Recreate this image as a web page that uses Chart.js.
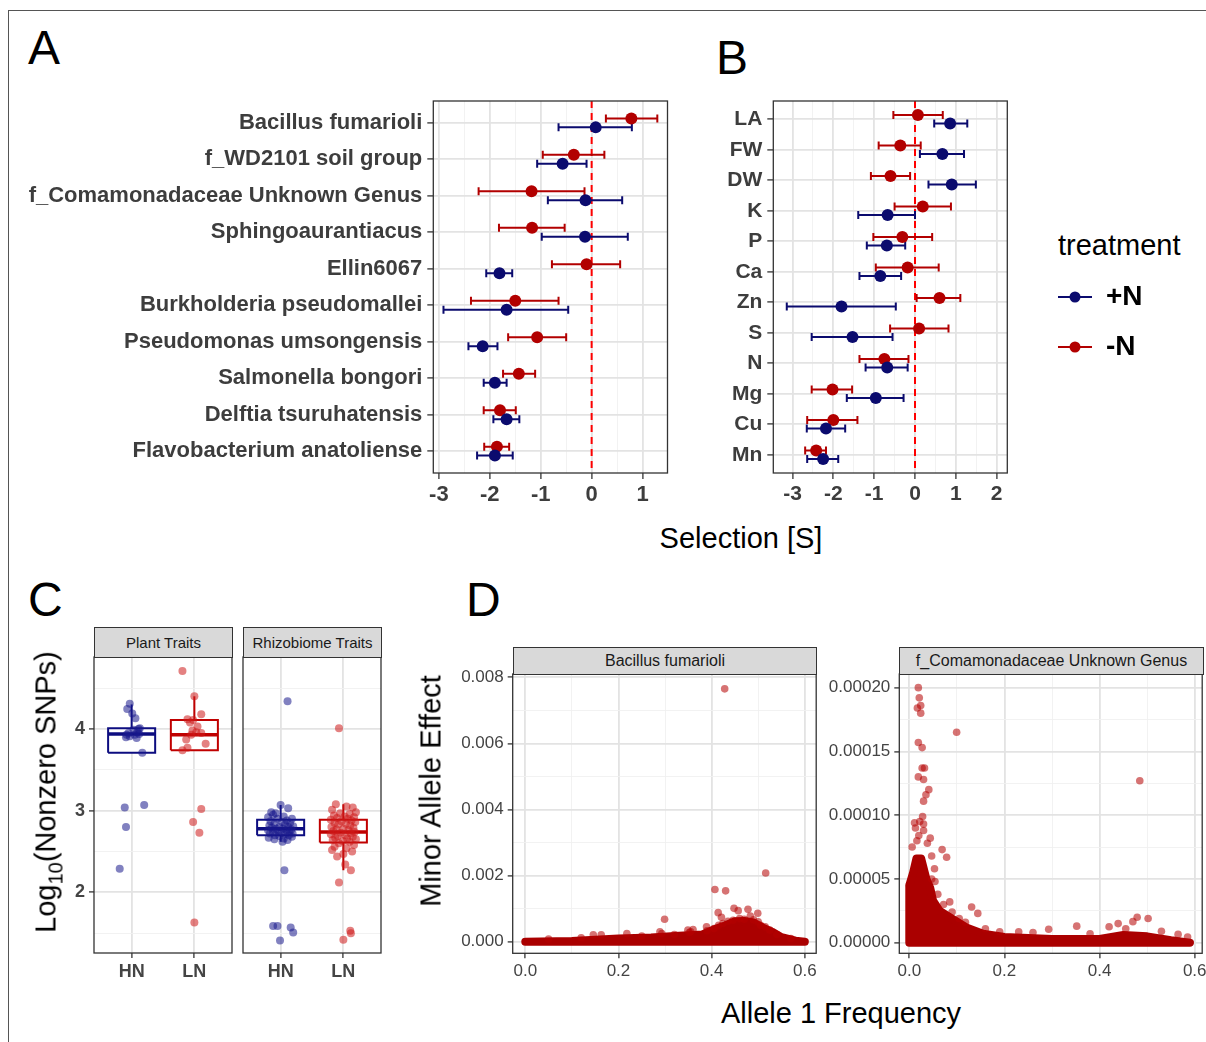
<!DOCTYPE html>
<html><head><meta charset="utf-8">
<script src="https://cdn.jsdelivr.net/npm/chart.js@4.4.1/dist/chart.umd.min.js"></script>
<style>
html,body{margin:0;padding:0;background:#fff}
body{width:1206px;height:1042px;position:relative;overflow:hidden;font-family:'Liberation Sans',Arial,Helvetica,sans-serif}
canvas{position:absolute}
.plab{position:absolute;font-size:48px;line-height:48px;color:#000}
.strip{position:absolute;background:#D9D9D9;border:1px solid #333;box-sizing:border-box;color:#1a1a1a;text-align:center;white-space:nowrap}
.ttl{position:absolute;font-size:29px;line-height:29px;color:#000;white-space:nowrap;transform:translate(-50%,-50%)}
.ttl.rot{transform:translate(-50%,-50%) rotate(-90deg)}
.ttl.lft{transform:translate(0,-50%)}
.ttl sub{font-size:20px;line-height:0}
#frame{position:absolute;left:8px;top:10px;width:1300px;height:1100px;border-top:1px solid #555;border-left:1px solid #555}
</style></head><body>
<div id="frame"></div>
<div class="plab" style="left:28px;top:24px">A</div>
<div class="plab" style="left:716px;top:34px">B</div>
<div class="plab" style="left:28px;top:576px">C</div>
<div class="plab" style="left:466px;top:576px">D</div>
<canvas id="cA" width="680" height="420" style="left:0;top:95px"></canvas>
<canvas id="cB" width="320" height="420" style="left:700px;top:95px"></canvas>
<div class="ttl lft" style="left:1058px;top:245px">treatment</div>
<canvas id="cLeg" width="170" height="130" style="left:1036px;top:261px"></canvas>
<div class="ttl" style="left:741px;top:538px">Selection [S]</div>
<canvas id="cC1" width="177" height="340" style="left:60px;top:650px"></canvas>
<canvas id="cC2" width="147" height="340" style="left:238px;top:650px"></canvas>
<div class="strip" style="left:94px;top:627px;width:139px;height:31px;font-size:15px;line-height:29px">Plant Traits</div>
<div class="strip" style="left:243px;top:627px;width:139px;height:31px;font-size:15px;line-height:29px">Rhizobiome Traits</div>
<div class="ttl rot" style="left:46px;top:792px">Log<sub>10</sub>(Nonzero SNPs)</div>
<canvas id="cD1" width="380" height="350" style="left:440px;top:640px"></canvas>
<canvas id="cD2" width="386" height="350" style="left:820px;top:640px"></canvas>
<div class="strip" style="left:513px;top:647px;width:304px;height:28px;font-size:16px;line-height:26px">Bacillus fumarioli</div>
<div class="strip" style="left:899px;top:647px;width:305px;height:28px;font-size:16px;line-height:26px">f_Comamonadaceae Unknown Genus</div>
<div class="ttl rot" style="left:431px;top:791px">Minor Allele Effect</div>
<div class="ttl" style="left:841px;top:1013px">Allele 1 Frequency</div>
<script>
// ---------------- DATA ----------------
const catsA = ['Bacillus fumarioli','f_WD2101 soil group','f_Comamonadaceae Unknown Genus','Sphingoaurantiacus','Ellin6067','Burkholderia pseudomallei','Pseudomonas umsongensis','Salmonella bongori','Delftia tsuruhatensis','Flavobacterium anatoliense'];
const aPlusMean  = [0.08,-0.57,-0.12,-0.13,-1.81,-1.67,-2.14,-1.90,-1.67,-1.90];
const aPlusLo    = [-0.65,-1.07,-0.86,-0.98,-2.07,-2.91,-2.42,-2.12,-1.93,-2.25];
const aPlusHi    = [0.79,-0.10,0.60,0.71,-1.56,-0.46,-1.85,-1.67,-1.42,-1.55];
const aMinusMean = [0.78,-0.35,-1.18,-1.17,-0.10,-1.50,-1.07,-1.43,-1.80,-1.86];
const aMinusLo   = [0.28,-0.96,-2.22,-1.82,-0.78,-2.37,-1.64,-1.74,-2.12,-2.11];
const aMinusHi   = [1.29,0.25,-0.14,-0.53,0.56,-0.65,-0.50,-1.11,-1.49,-1.62];
const aXTicks = [-3,-2,-1,0,1];

const catsB = ['LA','FW','DW','K','P','Ca','Zn','S','N','Mg','Cu','Mn'];
const bPlusMean  = [0.86,0.67,0.90,-0.67,-0.69,-0.85,-1.80,-1.53,-0.68,-0.96,-2.18,-2.25];
const bPlusLo    = [0.47,0.12,0.33,-1.39,-1.18,-1.36,-3.14,-2.53,-1.21,-1.67,-2.65,-2.64];
const bPlusHi    = [1.28,1.20,1.49,0.00,-0.24,-0.34,-0.47,-0.55,-0.18,-0.28,-1.71,-1.88];
const bMinusMean = [0.07,-0.36,-0.60,0.19,-0.31,-0.18,0.60,0.10,-0.75,-2.02,-2.00,-2.42];
const bMinusLo   = [-0.53,-0.89,-1.08,-0.50,-1.02,-0.96,0.04,-0.61,-1.36,-2.53,-2.64,-2.69];
const bMinusHi   = [0.68,0.14,-0.12,0.88,0.42,0.58,1.11,0.82,-0.16,-1.54,-1.41,-2.18];
const bXTicks = [-3,-2,-1,0,1,2];
const refX = [0];
const treatments = ['+N','-N'];

const cGroups = ['HN','LN'];
const cYTicks = [2,3,4];
const cPlantHNJit = [-0.03,-0.07,0.01,0.06,0.13,0.09,-0.08,0.05,0.12,-0.03,0.17,0.20,-0.11,-0.09,-0.19,-0.09,0.08,0.03,-0.05,0.11];
const cPlantHNVal = [4.31,4.245,4.19,4.13,4.01,3.96,3.93,3.93,3.94,3.91,3.71,3.07,3.04,2.80,2.29,3.90,3.89,3.99,3.95,4.00];
const cPlantLNJit = [-0.19,0.00,0.11,-0.11,-0.02,0.05,-0.03,0.11,-0.13,0.18,-0.11,-0.19,0.11,-0.02,0.08,0.00,-0.05,0.03,-0.07];
const cPlantLNVal = [4.71,4.40,4.18,4.12,4.11,4.03,3.98,3.95,3.87,3.82,3.77,3.74,3.02,2.86,2.73,1.63,3.93,3.96,4.08];
const cRhizoHNJit = [-0.15,-0.08,0.00,0.12,-0.12,0.05,-0.20,0.18,-0.05,0.10,-0.16,0.02,0.15,-0.10,0.07,-0.18,0.20,-0.02,0.12,-0.14,0.04,-0.07,0.17,-0.20,0.09,-0.04,0.14,-0.12,0.01,0.19,-0.17,0.07,-0.09,0.13,-0.02,0.18,-0.19,0.05,-0.10,0.11,0.03,
  0.11,0.06,-0.12,-0.05,0.16,0.20,-0.01];
const cRhizoHNVal = [2.98,2.97,3.07,3.03,2.95,2.93,2.92,2.90,2.90,2.88,2.87,2.86,2.85,2.84,2.83,2.82,2.81,2.80,2.80,2.79,2.78,2.78,2.77,2.76,2.76,2.75,2.74,2.74,2.73,2.72,2.72,2.71,2.70,2.70,2.69,2.68,2.67,2.66,2.65,2.64,2.62,
  4.34,2.27,1.59,1.59,1.57,1.51,1.41];
const cRhizoLNJit = [-0.12,0.05,0.15,-0.18,0.20,-0.05,0.10,-0.15,0.02,0.17,-0.10,0.07,-0.20,0.13,-0.03,0.19,-0.14,0.04,-0.08,0.11,-0.19,0.16,0.00,-0.11,0.08,-0.16,0.18,-0.04,0.12,-0.20,0.03,-0.09,0.15,-0.13,0.06,0.20,-0.17,-0.01,0.10,-0.07,0.17,-0.14,0.05,-0.18,0.14,0.00,-0.10,
  -0.07,-0.07,0.11,0.12,0.00,0.12,0.03];
const cRhizoLNVal = [3.08,3.05,3.04,3.01,2.98,2.97,2.96,2.94,2.93,2.92,2.91,2.90,2.89,2.88,2.87,2.86,2.85,2.84,2.83,2.82,2.80,2.79,2.78,2.77,2.76,2.75,2.74,2.73,2.72,2.71,2.70,2.69,2.68,2.67,2.66,2.65,2.64,2.63,2.62,2.60,2.58,2.56,2.54,2.52,2.50,2.47,2.44,
  4.01,2.12,1.53,1.50,1.42,2.27,2.34];
const cPlantQ1 = [3.71,3.74], cPlantMed = [3.94,3.93], cPlantQ3 = [4.01,4.11], cPlantLo = [3.71,3.74], cPlantHi = [4.30,4.40];
const cRhizoQ1 = [2.70,2.61], cRhizoMed = [2.78,2.74], cRhizoQ3 = [2.89,2.89], cRhizoLo = [2.62,2.27], cRhizoHi = [3.07,3.08];

const dXTicks = [0,0.2,0.4,0.6];
const dBacYTicks = [0,0.002,0.004,0.006,0.008];
const dComYTicks = [0,0.00005,0.0001,0.00015,0.0002];
const dBacX = [0.428,0.516,0.407,0.430,0.299,0.414,0.421,0.448,0.457,0.478,0.499,0.483,0.389,0.349,0.360,0.289,0.146,0.163,0.218,0.424,0.446,0.500,
  0.293,0.352,0.355,0.390,0.415,0.435,0.460,0.470,0.490,0.505,0.515,0.525,0.540,0.570,0.250,0.120,0.050,0.320,0.405];
const dBacY = [0.00765,0.00208,0.00158,0.00154,0.00068,0.00088,0.00074,0.00101,0.00094,0.00098,0.00086,0.00078,0.00045,0.00035,0.00037,0.00030,0.00021,0.00021,0.00025,0.00055,0.00065,0.00060,
  0.00025,0.00028,0.00030,0.00033,0.00050,0.00062,0.00070,0.00068,0.00066,0.00050,0.00045,0.00035,0.00022,0.00010,0.00017,0.00012,0.00008,0.00022,0.00040];
const dBacEnvX  = [0.00,0.10,0.20,0.27,0.33,0.38,0.41,0.43,0.45,0.47,0.49,0.51,0.53,0.55,0.58,0.60];
const dBacEnvHi = [0.0,0.00002,0.0001,0.00013,0.00018,0.00022,0.00040,0.00050,0.00062,0.00063,0.00058,0.00043,0.0003,0.00014,0.00003,0.0];
const dBacEnvLo = [0,0,0,0,0,0,0,0,0,0,0,0,0,0,0,0];
const dComX = [0.019,0.021,0.024,0.017,0.024,0.0995,0.019,0.027,0.027,0.019,0.030,0.041,0.035,0.030,0.028,0.011,0.030,0.020,0.044,0.038,0.006,0.069,0.0785,0.047,0.053,0.054,0.085,0.131,0.144,0.190,0.293,0.352,0.420,0.439,0.470,0.479,0.502,0.4845,0.013,0.022,0.030,0.016,0.032,
  0.047,0.060,0.072,0.090,0.105,0.118,0.160,0.230,0.260,0.380,0.455,0.530,0.565,0.585];
const dComY = [0.0002,0.000192,0.000186,0.000184,0.00018,0.000165,0.000157,0.000153,0.000137,0.00013,0.000128,0.00012,0.000116,0.000111,0.000099,0.000094,0.000093,0.000084,0.000082,0.000078,0.000075,0.000073,0.000067,0.000068,0.000058,0.000048,0.000032,0.000028,0.000023,0.0000086,0.0000105,0.000013,0.0000125,0.000015,0.0000165,0.00002,0.000019,0.000127,0.00009,0.000095,0.000088,0.00008,0.000137,
  0.00005,0.000038,0.00003,0.000024,0.000019,0.000016,0.000011,0.0000085,0.000008,0.000007,0.000011,0.000009,0.0000065,0.0000045];
const dComEnvX  = [0.000,0.008,0.015,0.025,0.036,0.044,0.050,0.064,0.085,0.120,0.155,0.200,0.300,0.400,0.450,0.500,0.550,0.590];
const dComEnvHi = [0.000045,0.000055,0.000066,0.000066,0.00005,0.000043,0.000033,0.000025,0.00002,0.000012,0.000007,0.0000045,0.000003,0.000003,0.000006,0.000005,0.000002,0.0];
const dComEnvLo = [0,0,0,0,0,0,0,0,0,0,0,0,0,0,0,0,0,0];

// ---------------- STYLE / HELPERS ----------------
Chart.defaults.font.family = "'Liberation Sans', Arial, Helvetica, sans-serif";
Chart.defaults.animation = false;
Chart.defaults.responsive = false;
Chart.defaults.devicePixelRatio = 1;
Chart.defaults.plugins.legend.display = false;
Chart.defaults.plugins.tooltip.enabled = false;

const RED = '#B20000', BLUE = '#0B0B6E';
const mids = a => { const m=[]; for (let i=0;i<a.length-1;i++) m.push((a[i]+a[i+1])/2); return m; };

function mkAxis(o){
  const minor = o.minor || [];
  const all = o.major.concat(minor).sort((a,b)=>a-b);
  const isMaj = v => o.major.some(m => Math.abs(m-v) < 1e-12);
  return {
    type:'linear', min:o.min, max:o.max, reverse:!!o.reverse,
    afterBuildTicks: s => { s.ticks = all.map(v=>({value:v})); },
    afterFit: s => {
      if (o.width != null) s.width = o.width;
      if (o.height != null) s.height = o.height;
      s.paddingLeft = 0; s.paddingRight = 0; s.paddingTop = 0; s.paddingBottom = 0;
    },
    border:{display:false},
    grid:{
      color: c => (c.tick && isMaj(c.tick.value)) ? '#E3E3E3' : '#F0F0F0',
      lineWidth: c => (c.tick && isMaj(c.tick.value)) ? 1.8 : 0.9,
      drawTicks: o.ticksOn !== false, tickLength: o.tickLen || 6, tickWidth: 1.3,
      tickColor: c => (c.tick && isMaj(c.tick.value)) ? '#333' : 'rgba(0,0,0,0)'
    },
    ticks:{
      display: o.labelsOn !== false, autoSkip:false, maxRotation:0, minRotation:0,
      padding: o.pad != null ? o.pad : 4, color: o.color || '#444',
      font:{size:o.size || 20, weight:o.bold ? 'bold' : 'normal'},
      callback: v => isMaj(v) ? o.fmt(v) : ''
    }
  };
}

const panelBorder = { id:'panelBorder', afterDraw(chart){
  const {ctx, chartArea:a} = chart; ctx.save(); ctx.strokeStyle='#333'; ctx.lineWidth=1.3;
  ctx.strokeRect(a.left, a.top, a.right-a.left, a.bottom-a.top); ctx.restore(); } };

function ptsDs(vals, off, color, r, order){
  return {type:'scatter', data: vals.map((v,i)=>({x:v, y:i+off})), pointRadius:r, pointHoverRadius:r,
    pointBackgroundColor:color, pointBorderColor:color, pointBorderWidth:0, order};
}
function errDs(lo, hi, off, color, order){
  const d = [];
  lo.forEach((l,i)=>{ d.push({x:l,y:i+off},{x:hi[i],y:i+off},{x:hi[i],y:null}); });
  return {type:'line', data:d, borderColor:color, borderWidth:2, spanGaps:false, fill:false,
    pointStyle:'line', pointRotation:90, pointRadius:4, pointHoverRadius:4, pointBorderColor:color, pointBorderWidth:2, order};
}

function forest(id, cats, pm, pl, ph, mm, ml, mh, cfg){
  const n = cats.length, ymin=-0.6, ymax=n-1+0.6;
  return new Chart(document.getElementById(id), {
    type:'scatter',
    data:{datasets:[
      ptsDs(pm, cfg.dodge, BLUE, 6, 1),
      ptsDs(mm, -cfg.dodge, RED, 6, 2),
      errDs(pl, ph, cfg.dodge, BLUE, 3),
      errDs(ml, mh, -cfg.dodge, RED, 4),
      {type:'line', data: refX.flatMap(v=>[{x:v,y:ymin},{x:v,y:ymax}]), borderColor:'#FF0000', borderWidth:2,
       borderDash:[7,5], pointRadius:0, pointHoverRadius:0, fill:false, order:9}
    ]},
    options:{
      layout:{padding:{top:6, right:cfg.padR, left:0, bottom:0}},
      scales:{
        x: mkAxis({min:cfg.xmin, max:cfg.xmax, major:cfg.xticks, minor:mids(cfg.xticks),
          fmt:v=>String(v), size:cfg.fs, bold:true, height:cfg.xh, pad:3, color:'#3d3d3d'}),
        y: mkAxis({min:ymin, max:ymax, reverse:true, major:cats.map((c,i)=>i), fmt:v=>cats[v],
          size:cfg.fs, bold:true, width:cfg.yw, pad:5, color:'#3d3d3d'})
      }
    },
    plugins:[panelBorder]
  });
}

forest('cA', catsA, aPlusMean, aPlusLo, aPlusHi, aMinusMean, aMinusLo, aMinusHi,
  {dodge:0.123, xmin:-3.11, xmax:1.49, xticks:aXTicks, fs:22, xh:42, yw:433.3, padR:12.5});
forest('cB', catsB, bPlusMean, bPlusLo, bPlusHi, bMinusMean, bMinusLo, bMinusHi,
  {dodge:0.14, xmin:-3.47, xmax:2.26, xticks:bXTicks, fs:21, xh:42, yw:73.3, padR:12.7});

// legend
function legendSym(color){
  const c = document.createElement('canvas'); c.width=34; c.height=14;
  const g = c.getContext('2d'); g.strokeStyle=color; g.lineWidth=2;
  g.beginPath(); g.moveTo(0,7); g.lineTo(34,7); g.stroke();
  g.fillStyle=color; g.beginPath(); g.arc(17,7,5.5,0,Math.PI*2); g.fill(); return c;
}
const syms = [legendSym(BLUE), legendSym(RED)];
new Chart(document.getElementById('cLeg'), {
  type:'scatter',
  data:{datasets: treatments.map((t,i)=>({label:t, data:[], pointStyle:syms[i]}))},
  options:{
    scales:{x:{display:false}, y:{display:false}},
    plugins:{legend:{display:true, position:'left', align:'start', maxWidth:400,
      labels:{usePointStyle:true, pointStyleWidth:34, color:'#000', padding:22, font:{size:28, weight:'bold'},
        generateLabels: ch => ch.data.datasets.map((d,i)=>({text:d.label, pointStyle:syms[i], fillStyle:'rgba(0,0,0,0)',
          strokeStyle:'rgba(0,0,0,0)', lineWidth:0, hidden:false, datasetIndex:i, fontColor:'#000'}))}
    }}
  }
});

// panel C
function boxSet(x, q1, med, q3, lo, hi, color){
  const w = 0.375;
  return [
    {type:'line', data:[{x:x-w,y:q1},{x:x+w,y:q1},{x:x+w,y:q3},{x:x-w,y:q3},{x:x-w,y:q1}], borderColor:color, borderWidth:2,
      backgroundColor:'#fff', fill:'shape', pointRadius:0, pointHoverRadius:0, borderJoinStyle:'miter', order:6},
    {type:'line', data:[{x:x,y:q3},{x:x,y:hi},{x:x,y:null},{x:x,y:q1},{x:x,y:lo}], borderColor:color, borderWidth:2,
      pointRadius:0, pointHoverRadius:0, fill:false, spanGaps:false, order:5},
    {type:'line', data:[{x:x-w,y:med},{x:x+w,y:med}], borderColor:color, borderWidth:3.5, pointRadius:0, pointHoverRadius:0, fill:false, order:4}
  ];
}
function jitDs(jit, val, cx, color){
  return {type:'scatter', data: val.map((v,i)=>({x:cx+jit[i], y:v})), pointRadius:4, pointHoverRadius:4,
    pointBackgroundColor:color, pointBorderWidth:0, order:1};
}
const HNBOX = '#0D0D80', LNBOX = '#C00000';
const HNPT = 'rgba(25,25,140,0.55)', LNPT = 'rgba(205,25,25,0.55)';
function boxChart(id, q1, med, q3, lo, hi, hnJ, hnV, lnJ, lnV, first){
  return new Chart(document.getElementById(id), {
    type:'scatter',
    data:{datasets:[
      ...boxSet(1, q1[0], med[0], q3[0], lo[0], hi[0], HNBOX),
      ...boxSet(2, q1[1], med[1], q3[1], lo[1], hi[1], LNBOX),
      jitDs(hnJ, hnV, 1, HNPT), jitDs(lnJ, lnV, 2, LNPT)
    ]},
    options:{
      layout:{padding:{top:7, right: first?5:4, left: first?0:5, bottom:0}},
      scales:{
        x: mkAxis({min:0.4, max:2.6, major:[1,2], fmt:v=>cGroups[v-1], size:18, bold:true, height:37, pad:3, tickLen:5}),
        y: mkAxis({min:1.258, max:4.881, major:cYTicks, minor:mids([1,2,3,4,5]), fmt:v=>String(v), size:18, bold:true,
          width: first?34:0, pad:4, tickLen:5, labelsOn:first, ticksOn:first})
      }
    },
    plugins:[panelBorder]
  });
}
boxChart('cC1', cPlantQ1, cPlantMed, cPlantQ3, cPlantLo, cPlantHi, cPlantHNJit, cPlantHNVal, cPlantLNJit, cPlantLNVal, true);
boxChart('cC2', cRhizoQ1, cRhizoMed, cRhizoQ3, cRhizoLo, cRhizoHi, cRhizoHNJit, cRhizoHNVal, cRhizoLNJit, cRhizoLNVal, false);

// panel D
const MASS = '#AA0000', DPT = 'rgba(180,0,0,0.55)';
function dChart(id, px, py, ex, ehi, elo, cfg){
  const poly = ex.map((x,i)=>({x, y:ehi[i]})).concat(ex.map((x,i)=>({x, y:elo[i]})).reverse());
  poly.push({x:ex[0], y:ehi[0]});
  return new Chart(document.getElementById(id), {
    type:'scatter',
    data:{datasets:[
      {type:'line', data:poly, borderColor:MASS, backgroundColor:MASS, borderWidth:8, fill:'shape', tension:0,
        pointRadius:0, pointHoverRadius:0, borderJoinStyle:'round', borderCapStyle:'round', order:3},
      {type:'scatter', data: px.map((x,i)=>({x, y:py[i]})), pointRadius:3.8, pointHoverRadius:3.8,
        pointBackgroundColor:DPT, pointBorderWidth:0, order:1}
    ]},
    options:{
      layout:{padding:{top:34, right:cfg.padR, left:0, bottom:0}},
      scales:{
        x: mkAxis({min:cfg.xmin, max:cfg.xmax, major:dXTicks, minor:mids(dXTicks), fmt:v=>v.toFixed(1), size:17, height:36.7, pad:3, tickLen:5}),
        y: mkAxis({min:cfg.ymin, max:cfg.ymax, major:cfg.yticks, minor:mids(cfg.yticks), fmt:v=>v.toFixed(cfg.dec), size:17, width:cfg.yw, pad:4, tickLen:5})
      }
    },
    plugins:[panelBorder]
  });
}
dChart('cD1', dBacX, dBacY, dBacEnvX, dBacEnvHi, dBacEnvLo,
  {xmin:-0.027, xmax:0.6244, ymin:-0.00035, ymax:0.0081, yticks:dBacYTicks, dec:3, yw:72.7, padR:3.3});
dChart('cD2', dComX, dComY, dComEnvX, dComEnvHi, dComEnvLo,
  {xmin:-0.021, xmax:0.6157, ymin:-0.0000083, ymax:0.0002107, yticks:dComYTicks, dec:5, yw:79.3, padR:3.3});
</script>
</body></html>
